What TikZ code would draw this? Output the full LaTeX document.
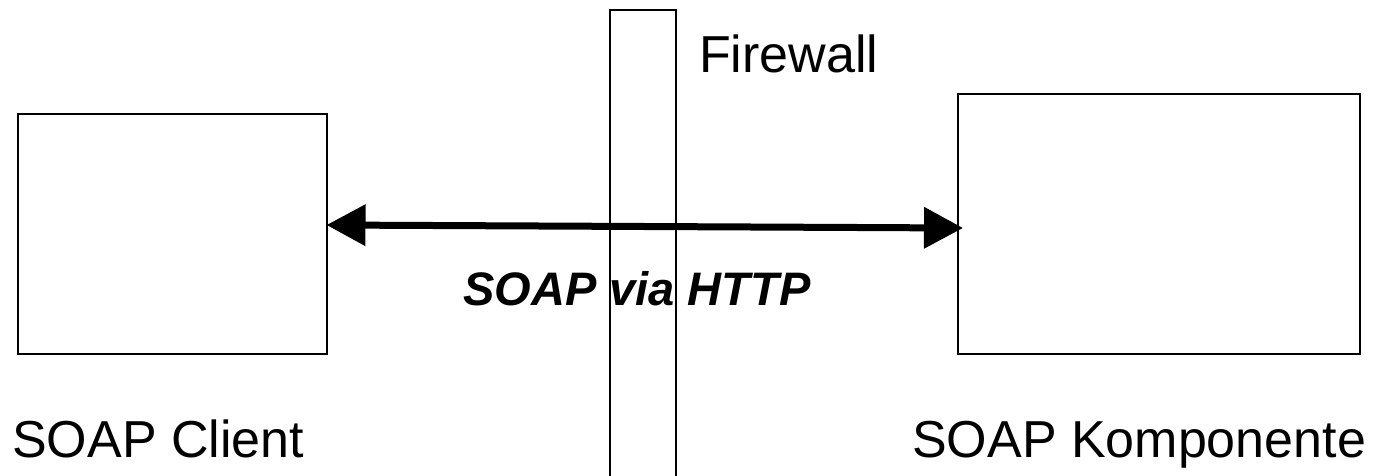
\documentclass[tikz,border=0pt]{standalone}
\usepackage{fontspec}
\setmainfont{Liberation Sans}
\usetikzlibrary{arrows.meta}
\tikzset{
  boxstyle/.style={draw=black, line width=2pt, inner sep=0pt},
  bigtext/.style={inner sep=0pt, font=\fontsize{52}{60}\selectfont},
  midtext/.style={inner sep=0pt, font=\fontsize{47}{55}\selectfont\bfseries\itshape},
  conn/.style={line width=7pt, {Triangle[length=39pt,width=40pt]}-{Triangle[length=39pt,width=40pt]}, shorten <=0pt, shorten >=0pt}
}
\begin{document}
\begin{tikzpicture}[x=1pt,y=-1pt]
\useasboundingbox (0,0) rectangle (1379,476);
\fill[white] (0,0) rectangle (1379,476);
% boxes
\draw[boxstyle] (17.5,114.5) rectangle (326.5,353.5);
\coordinate (client) at (326.5,225);
\draw[boxstyle] (957.5,94.5) rectangle (1360,354);
\coordinate (komp) at (963,228);
% label
\node[midtext, anchor=base west] (via) at (463,305) {SOAP via HTTP};
% firewall
\draw[boxstyle] (610,480) -- (610,10.5) -- (676,10.5) -- (676,480);
\node[bigtext, anchor=base west] (fw) at (699,73) {Firewall};
% connector
\draw[conn] (client) -- (komp);
% captions
\node[bigtext, anchor=base west] (cl) at (12,457) {SOAP Client};
\node[bigtext, anchor=base west] (ko) at (912,457) {SOAP Komponente};
\end{tikzpicture}
\end{document}
